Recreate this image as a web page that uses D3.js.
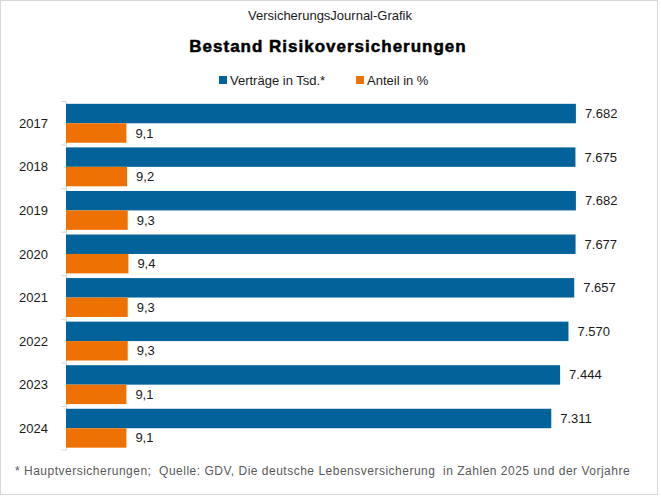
<!DOCTYPE html>
<html>
<head>
<meta charset="utf-8">
<script src="https://cdn.jsdelivr.net/npm/d3@7"></script>
<style>
  body { margin: 0; background: #fff; }
  text { font-family: "Liberation Sans", Arial, sans-serif; }
</style>
</head>
<body>
<div id="chart"></div>
<script>
var years = ["2017", "2018", "2019", "2020", "2021", "2022", "2023", "2024"];
var vertraege = [7682, 7675, 7682, 7677, 7657, 7570, 7444, 7311];
var anteil = [9.1, 9.2, 9.3, 9.4, 9.3, 9.3, 9.1, 9.1];
var seriesNames = ["Verträge in Tsd.*", "Anteil in %"];

var width = 661;
var height = 496;
var blue = "#02629a";
var orange = "#ed7203";

var locale = d3.formatLocale({decimal: ",", thousands: ".", grouping: [3]});
var fmtThousands = locale.format(",");
var fmtPercent = locale.format(".1f");

var svg = d3.select("#chart").append("svg")
  .attr("width", width)
  .attr("height", height);

// chart frame
svg.append("rect")
  .attr("x", 0.5).attr("y", 0.5)
  .attr("width", width - 4).attr("height", height - 2)
  .attr("fill", "#fff")
  .attr("stroke", "#d9d9d9");

/* Titles */
svg.append("text")
  .attr("x", 330).attr("y", 20)
  .attr("text-anchor", "middle")
  .attr("font-size", "13px")
  .attr("fill", "#1a1a1a")
  .text("VersicherungsJournal-Grafik");

svg.append("text")
  .attr("x", 328).attr("y", 52)
  .attr("text-anchor", "middle")
  .attr("font-size", "17px")
  .attr("font-weight", "bold")
  .attr("letter-spacing", "1px")
  .attr("fill", "#000")
  .attr("stroke", "#000")
  .attr("stroke-width", 0.5)
  .text("Bestand Risikoversicherungen");

/* Legend */
var legend = svg.append("g").attr("class", "legend");
var legendItems = [
  {name: seriesNames[0], color: blue, x: 219},
  {name: seriesNames[1], color: orange, x: 356}
];
legendItems.forEach(function(d) {
  legend.append("rect")
    .attr("x", d.x).attr("y", 76)
    .attr("width", 8).attr("height", 8)
    .attr("fill", d.color);
  legend.append("text")
    .attr("x", d.x + 11).attr("y", 85)
    .attr("font-size", "13px")
    .attr("fill", "#1a1a1a")
    .text(d.name);
});

/* Scales */
var plotLeft = 66, plotTop = 101.5, plotBottom = 450;

var xScale = d3.scaleLinear()
  .domain([0, 8000])
  .range([plotLeft, 597]);

// secondary axis for the share
var x2Scale = d3.scaleLinear()
  .domain([0, 80])
  .range([plotLeft, 597]);

var yScale = d3.scaleBand()
  .domain(years)
  .range([plotTop, plotBottom])
  .paddingInner(0)
  .paddingOuter(0);

var inner = d3.scaleBand()
  .domain(["v", "a"])
  .range([0, yScale.bandwidth()])
  .paddingOuter(0.12)
  .paddingInner(0);

/* Y axis */
var yAxis = d3.axisLeft(yScale).tickSize(0).tickPadding(0).tickFormat(d => d);
var yg = svg.append("g")
  .attr("class", "y axis")
  .attr("transform", `translate(${plotLeft}, 0)`)
  .call(yAxis);
yg.select(".domain").attr("stroke", "#d9d9d9");
yg.selectAll(".tick text")
  .attr("x", -18)
  .attr("dy", "0.35em")
  .attr("font-size", "13px")
  .attr("font-family", "'Liberation Sans', Arial, sans-serif")
  .attr("fill", "#1a1a1a");

// tick marks between categories
var boundaries = years.map(d => yScale(d)).concat([plotBottom]);
svg.append("g").selectAll("line")
  .data(boundaries).enter()
  .append("line")
  .attr("x1", plotLeft - 5).attr("x2", plotLeft)
  .attr("y1", d => d).attr("y2", d => d)
  .attr("stroke", "#d9d9d9");

/* Bars */
var rows = years.map(function(y, i) {
  return {year: y, v: vertraege[i], a: anteil[i]};
});

var groups = svg.append("g").attr("class", "bars")
  .selectAll("g")
  .data(rows).enter()
  .append("g")
  .attr("transform", d => `translate(0, ${yScale(d.year)})`);

groups.append("rect")
  .attr("x", xScale(0))
  .attr("y", inner("v"))
  .attr("width", d => xScale(d.v) - xScale(0))
  .attr("height", inner.bandwidth())
  .attr("fill", blue);

groups.append("rect")
  .attr("x", x2Scale(0))
  .attr("y", inner("a"))
  .attr("width", d => x2Scale(d.a) - x2Scale(0))
  .attr("height", inner.bandwidth())
  .attr("fill", orange);

groups.append("text")
  .attr("x", d => xScale(d.v) + 9)
  .attr("y", inner("v") + inner.bandwidth() / 2)
  .attr("dy", "0.35em")
  .attr("font-size", "13px")
  .attr("fill", "#1a1a1a")
  .text(d => fmtThousands(d.v));

groups.append("text")
  .attr("x", d => x2Scale(d.a) + 9)
  .attr("y", inner("a") + inner.bandwidth() / 2)
  .attr("dy", "0.35em")
  .attr("font-size", "13px")
  .attr("fill", "#1a1a1a")
  .text(d => fmtPercent(d.a));

/* Footnote */
svg.append("text")
  .attr("x", 15).attr("y", 475)
  .attr("font-size", "12px")
  .attr("letter-spacing", "0.5px")
  .attr("fill", "#595959")
  .attr("xml:space", "preserve")
  .style("white-space", "pre")
  .text("* Hauptversicherungen;  Quelle: GDV, Die deutsche Lebensversicherung  in Zahlen 2025 und der Vorjahre");
</script>
</body>
</html>
